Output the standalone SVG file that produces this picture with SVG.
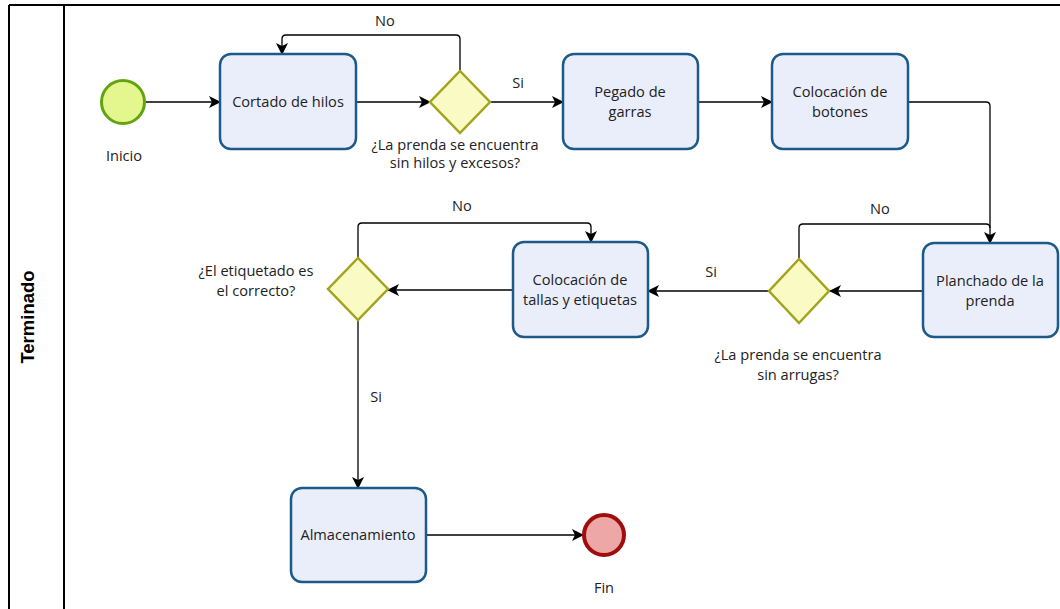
<svg xmlns="http://www.w3.org/2000/svg" width="1060" height="609" viewBox="0 0 1060 609">
  <defs>
    <marker id="arrow" viewBox="0 0 12 12" refX="11" refY="6" markerWidth="12" markerHeight="12" markerUnits="userSpaceOnUse" orient="auto">
      <path d="M0,0 L12,6 L0,12 L3,6 Z" fill="#000"/>
    </marker>
  </defs>
  <style>
    .task { fill: #eaeefb; stroke: #1d5a8a; stroke-width: 2.5; }
    .gate { fill: #fafac4; stroke: #a3a31e; stroke-width: 2.5; }
    .start { fill: #e4f78f; stroke: #63a30f; stroke-width: 3; }
    .end { fill: #eea7a7; stroke: #a00d0d; stroke-width: 4; }
    .lbl { font-family: "Open Sans", "Noto Sans", sans-serif; font-size: 14.6px; fill: #222; text-anchor: middle; }
    .flow { fill: none; stroke: #000; stroke-width: 1.3; }
    .frame { fill: none; stroke: #000; stroke-width: 2; }
  </style>

  <rect width="1060" height="609" fill="#fff"/>

  <!-- pool frame and lane header -->
  <g id="pool">
    <line class="frame" x1="9" y1="5" x2="1060" y2="5"/>
    <line class="frame" x1="9" y1="5" x2="9" y2="609"/>
    <line class="frame" x1="64" y1="5" x2="64" y2="609"/>
    <text transform="translate(34,317) rotate(-90)" font-family="Liberation Sans, Arial, sans-serif" font-size="18.5" font-weight="bold" text-anchor="middle" fill="#000">Terminado</text>
  </g>

  <!-- sequence flows -->
  <g id="connectors">
    <path class="flow" d="M146,102 H220" marker-end="url(#arrow)"/>
    <path class="flow" d="M356,102 H430" marker-end="url(#arrow)"/>
    <path class="flow" d="M460,71 V39 Q460,35 456,35 H286 Q282,35 282,39 V54" marker-end="url(#arrow)"/>
    <path class="flow" d="M490,102 H563" marker-end="url(#arrow)"/>
    <path class="flow" d="M698,102 H772" marker-end="url(#arrow)"/>
    <path class="flow" d="M908,102 H986 Q990,102 990,106 V243" marker-end="url(#arrow)"/>
    <path class="flow" d="M923,291 H830" marker-end="url(#arrow)"/>
    <path class="flow" d="M799,259 V228 Q799,224 803,224 H986 Q990,224 990,228"/>
    <path class="flow" d="M769,291 H648" marker-end="url(#arrow)"/>
    <path class="flow" d="M513,290 H388" marker-end="url(#arrow)"/>
    <path class="flow" d="M358,258 V227 Q358,223 362,223 H587 Q591,223 591,227 V242" marker-end="url(#arrow)"/>
    <path class="flow" d="M358,320 V488" marker-end="url(#arrow)"/>
    <path class="flow" d="M426,535 H583" marker-end="url(#arrow)"/>
    <text class="lbl" x="385" y="26">No</text>
    <text class="lbl" x="518" y="88">Si</text>
    <text class="lbl" x="880" y="214">No</text>
    <text class="lbl" x="711" y="277">Si</text>
    <text class="lbl" x="462" y="211">No</text>
    <text class="lbl" x="376" y="402">Si</text>
  </g>

  <g id="inicio">
    <circle class="start" cx="123" cy="102" r="21.5"/>
    <text class="lbl" x="124" y="161">Inicio</text>
  </g>

  <g id="cortado">
    <rect class="task" x="220" y="54" width="136" height="95" rx="11"/>
    <text class="lbl" x="288" y="107">Cortado de hilos</text>
  </g>

  <g id="gate-hilos">
    <polygon class="gate" points="460,71 490,102 460,133 430,102"/>
    <text class="lbl" x="455" y="150">¿La prenda se encuentra</text>
    <text class="lbl" x="455" y="168">sin hilos y excesos?</text>
  </g>

  <g id="pegado">
    <rect class="task" x="563" y="54" width="135" height="95" rx="11"/>
    <text class="lbl" x="630" y="97">Pegado de</text>
    <text class="lbl" x="630" y="117">garras</text>
  </g>

  <g id="botones">
    <rect class="task" x="772" y="54" width="136" height="95" rx="11"/>
    <text class="lbl" x="840" y="97">Colocación de</text>
    <text class="lbl" x="840" y="117">botones</text>
  </g>

  <g id="planchado">
    <rect class="task" x="923" y="243" width="135" height="94" rx="11"/>
    <text class="lbl" x="990" y="286">Planchado de la</text>
    <text class="lbl" x="990" y="306">prenda</text>
  </g>

  <g id="gate-arrugas">
    <polygon class="gate" points="799,259 829,291 799,323 769,291"/>
    <text class="lbl" x="798" y="360">¿La prenda se encuentra</text>
    <text class="lbl" x="798" y="380">sin arrugas?</text>
  </g>

  <g id="tallas">
    <rect class="task" x="513" y="242" width="135" height="95" rx="11"/>
    <text class="lbl" x="580" y="285">Colocación de</text>
    <text class="lbl" x="580" y="305">tallas y etiquetas</text>
  </g>

  <g id="gate-etiquetado">
    <polygon class="gate" points="358,258 388,289 358,320 328,289"/>
    <text class="lbl" x="256" y="276">¿El etiquetado es</text>
    <text class="lbl" x="256" y="296">el correcto?</text>
  </g>

  <g id="almacenamiento">
    <rect class="task" x="291" y="488" width="135" height="94" rx="11"/>
    <text class="lbl" x="358" y="540">Almacenamiento</text>
  </g>

  <g id="fin">
    <circle class="end" cx="604" cy="535" r="20"/>
    <text class="lbl" x="604" y="593">Fin</text>
  </g>
</svg>
